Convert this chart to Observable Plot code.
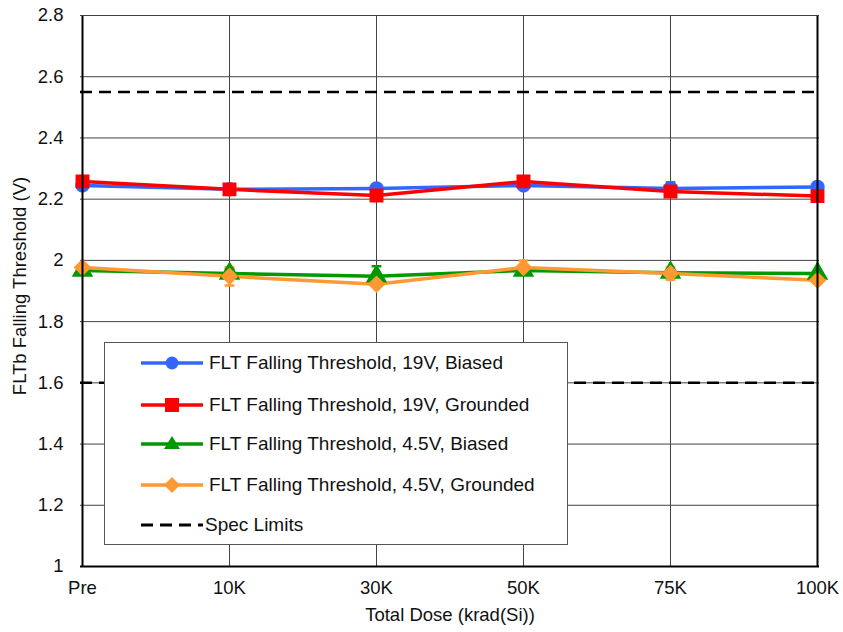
<!DOCTYPE html>
<html>
<head>
<meta charset="utf-8">
<script src="https://cdn.jsdelivr.net/npm/d3@7"></script>
<script src="https://cdn.jsdelivr.net/npm/@observablehq/plot@0.6"></script>
<style>
  html, body { margin: 0; padding: 0; background: #fff; }
  #wrap { position: relative; width: 843px; height: 632px; font-family: "Liberation Sans", Arial, sans-serif; }
  #legend { position: absolute; left: 104px; top: 342px; width: 464px; height: 203px; background: #fff; border: 1px solid #555; box-sizing: border-box; }
  .row { position: absolute; left: 36px; height: 24px; display: flex; align-items: center; font-size: 19px; color: #111; white-space: nowrap; }
  .row svg { margin-right: 6px; flex: none; }
</style>
</head>
<body>
<div id="wrap"></div>
<script>
const doses = ["Pre", "10K", "30K", "50K", "75K", "100K"];
const blue19Biased = [2.245, 2.232, 2.235, 2.245, 2.235, 2.240];
const red19Grounded = [2.258, 2.232, 2.212, 2.258, 2.225, 2.210];
const green45Biased = [1.967, 1.957, 1.948, 1.967, 1.960, 1.957];
const orange45Grounded = [1.977, 1.948, 1.922, 1.977, 1.957, 1.935];
const blueErr = [0, 0, 0, 0, 0.02, 0];
const redErr = [0, 0, 0, 0, 0, 0];
const greenErr = [0, 0.015, 0.033, 0, 0, 0];
const orangeErr = [0, 0.03, 0, 0.022, 0.02, 0];
const specLimits = [2.55, 1.6];
const yTicks = [1, 1.2, 1.4, 1.6, 1.8, 2, 2.2, 2.4, 2.6, 2.8];

const seriesDefs = [
  {name: "FLT Falling Threshold, 19V, Biased", values: blue19Biased, err: blueErr, color: "#3366ff", symbol: "circle"},
  {name: "FLT Falling Threshold, 19V, Grounded", values: red19Grounded, err: redErr, color: "#ff0000", symbol: "square"},
  {name: "FLT Falling Threshold, 4.5V, Biased", values: green45Biased, err: greenErr, color: "#009900", symbol: "triangle"},
  {name: "FLT Falling Threshold, 4.5V, Grounded", values: orange45Grounded, err: orangeErr, color: "#ff9933", symbol: "diamond2"}
];

const rows = seriesDefs.flatMap(s => doses.map((d, i) => ({dose: d, value: s.values[i], err: s.err[i], series: s.name, color: s.color, symbol: s.symbol})));

const capSymbol = {draw(context, size) { const w = Math.sqrt(size) / 2; context.moveTo(-w, 0); context.lineTo(w, 0); }};

const marks = [
  Plot.gridY(yTicks, {stroke: "#444", strokeOpacity: 1, strokeWidth: 1}),
  Plot.gridX(doses, {stroke: "#444", strokeOpacity: 1, strokeWidth: 1}),
  Plot.ruleY(specLimits, {stroke: "#000", strokeWidth: 2.5, strokeDasharray: "12,7"})
];
for (const s of seriesDefs) {
  const data = rows.filter(r => r.series === s.name);
  const errData = data.filter(r => r.err > 0);
  marks.push(Plot.ruleX(errData, {x: "dose", y1: r => r.value - r.err, y2: r => r.value + r.err, stroke: s.color, strokeWidth: 2}));
  marks.push(Plot.dot(errData, {x: "dose", y: r => r.value + r.err, symbol: capSymbol, r: 5.5, stroke: s.color, strokeWidth: 2.5}));
  marks.push(Plot.dot(errData, {x: "dose", y: r => r.value - r.err, symbol: capSymbol, r: 5.5, stroke: s.color, strokeWidth: 2.5}));
}
for (const s of seriesDefs) {
  const data = rows.filter(r => r.series === s.name);
  marks.push(Plot.line(data, {x: "dose", y: "value", stroke: s.color, strokeWidth: 3.5}));
}
for (const s of seriesDefs) {
  const data = rows.filter(r => r.series === s.name);
  marks.push(Plot.dot(data, {x: "dose", y: "value", fill: s.color, stroke: s.color, symbol: s.symbol, r: s.symbol === "circle" ? 6.5 : 7}));
}
marks.push(Plot.ruleX([doses[0]], {stroke: "#000", strokeWidth: 2}));
marks.push(Plot.ruleX([doses[doses.length - 1]], {stroke: "#000", strokeWidth: 2}));
marks.push(Plot.ruleY([1], {stroke: "#000", strokeWidth: 2}));
marks.push(Plot.ruleY([2.8], {stroke: "#444", strokeWidth: 1}));
marks.push(Plot.axisY(yTicks, {tickSize: 0, tickPadding: 17, fontSize: 18.5, tickFormat: d => String(d), label: null}));
marks.push(Plot.axisX(doses, {tickSize: 0, tickPadding: 14, fontSize: 18.5, label: null}));
marks.push(Plot.text(["Total Dose (krad(Si))"], {frameAnchor: "bottom", dy: 54, fontSize: 18.5}));
marks.push(Plot.text(["FLTb Falling Threshold (V)"], {frameAnchor: "left", textAnchor: "middle", dx: -60, dy: -5, rotate: -90, fontSize: 18.5}));

const chart = Plot.plot({
  width: 843,
  height: 632,
  marginLeft: 80,
  marginRight: 24,
  marginTop: 15,
  marginBottom: 66,
  style: {fontFamily: "'Liberation Sans', Arial, sans-serif", color: "#111", background: "#fff", overflow: "visible"},
  x: {type: "point", domain: doses, padding: 0},
  y: {domain: [1, 2.8]},
  marks
});

const wrap = document.getElementById("wrap");
wrap.appendChild(chart);

// Legend overlay (HTML)
const legend = document.createElement("div");
legend.id = "legend";
const symbolPath = {
  circle: `<circle cx="31" cy="12" r="6.5"/>`,
  square: `<rect x="24" y="5" width="14" height="14"/>`,
  triangle: `<path d="M31,4 L39,17 L23,17 Z"/>`,
  diamond2: `<path d="M31,4 L39,12 L31,20 L23,12 Z"/>`
};
const rowTops = [8, 50, 89, 130, 170];
seriesDefs.forEach((s, i) => {
  const r = document.createElement("div");
  r.className = "row";
  r.style.top = rowTops[i] + "px";
  r.innerHTML = `<svg width="62" height="24"><line x1="0" x2="62" y1="12" y2="12" stroke="${s.color}" stroke-width="3.5"/><g fill="${s.color}">${symbolPath[s.symbol]}</g></svg><span>${s.name}</span>`;
  legend.appendChild(r);
});
const specRow = document.createElement("div");
specRow.className = "row";
specRow.style.top = rowTops[4] + "px";
specRow.innerHTML = `<svg width="62" height="24" style="margin-right:2px"><line x1="0" x2="62" y1="12" y2="12" stroke="#000" stroke-width="3" stroke-dasharray="12,7"/></svg><span>Spec Limits</span>`;
legend.appendChild(specRow);
wrap.appendChild(legend);
</script>
</body>
</html>
